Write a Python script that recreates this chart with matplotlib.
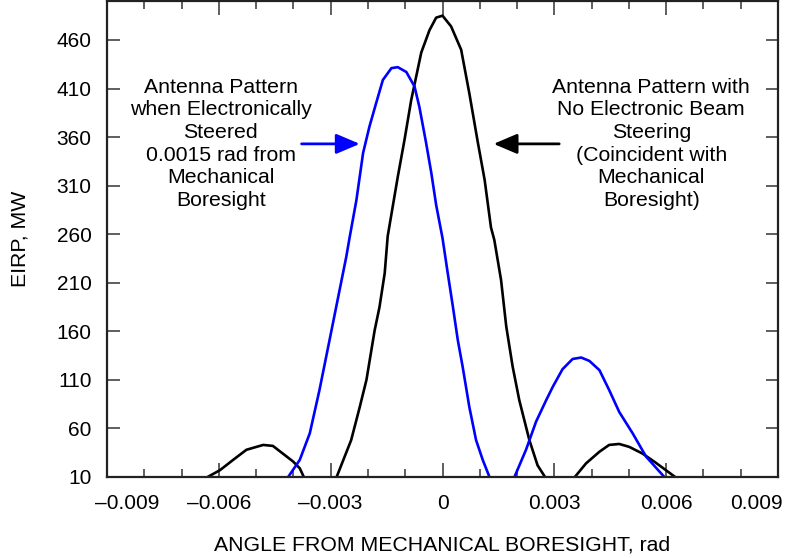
import matplotlib
matplotlib.use("Agg")
import matplotlib.pyplot as plt
import matplotlib.transforms as mtransforms
import numpy as np

plt.rcParams['font.family'] = ['Liberation Sans', 'DejaVu Sans']

# angle (rad) / EIRP (MW)
x_boresight = [-0.0063, -0.00597, -0.00562, -0.00526, -0.00481, -0.00455, -0.00428,
               -0.00401, -0.00383, -0.00372]
y_boresight = [10, 17, 27.5, 38, 43, 42, 34, 26, 19, 10]

x_main = [-0.00284, -0.00245, -0.00222, -0.00204, -0.00182, -0.00169, -0.00155,
          -0.00147, -0.0012, -0.00102, -0.00084, -0.00057, -0.00035, -0.00017,
          0.0, 0.00023, 0.0005, 0.00072, 0.00095, 0.00113, 0.0013, 0.00139,
          0.00157, 0.00171, 0.00188, 0.00206, 0.00233, 0.00255, 0.00275]
y_main = [10, 48, 82, 110, 161, 185, 220, 258, 319, 357, 398, 447, 470, 483,
          485, 474, 450, 405, 354, 316, 267, 254, 213, 165, 124, 89, 48, 22, 10]

x_side_r = [0.00355, 0.00385, 0.00421, 0.00447, 0.00474, 0.00501, 0.00537, 0.00572, 0.00624]
y_side_r = [10, 24, 36, 43, 44, 41, 34, 24.7, 10]

x_steer = [-0.00414, -0.00383, -0.00356, -0.0033, -0.00303, -0.00276, -0.00258,
           -0.00249, -0.00231, -0.00213, -0.00196, -0.00178, -0.0016, -0.00137,
           -0.0012, -0.00097, -0.00075, -0.00062, -0.00044, -0.0003, -0.00017,
           0.0, 0.00014, 0.00028, 0.00041, 0.00054, 0.00072, 0.0009, 0.00108, 0.00126]
y_steer = [10, 27.5, 55, 99.6, 151, 202.6, 237, 257, 295, 343.7, 370.8, 395, 418.8,
           431, 432, 427, 412, 391, 354, 323, 290, 256, 220, 185, 151, 123.6, 82,
           48, 27.5, 10]

x_steer_side = [0.00193, 0.00224, 0.00251, 0.00278, 0.00296, 0.00322, 0.00349,
                0.00372, 0.00394, 0.00421, 0.00447, 0.00474, 0.0051, 0.00546, 0.00595]
y_steer_side = [10, 38, 67, 89, 103, 121, 131.5, 133, 129.5, 120, 99.6, 77, 55, 31, 10]

xticks = [-0.009, -0.006, -0.003, 0, 0.003, 0.006, 0.009]
xtick_labels = ['\u20130.009', '\u20130.006', '\u20130.003', '0', '0.003', '0.006', '0.009']
yticks = [10, 60, 110, 160, 210, 260, 310, 360, 410, 460]

label_steer = "Antenna Pattern\nwhen Electronically\nSteered\n0.0015 rad from\nMechanical\nBoresight"
label_main = "Antenna Pattern with\nNo Electronic Beam\nSteering\n(Coincident with\nMechanical\nBoresight)"

fig = plt.figure(figsize=(7.85, 5.58), dpi=100)
ax = fig.add_axes([0.1363, 0.1452, 0.8548, 0.8528])

blue = '#0000ff'
lw = 1.9
ax.plot(x_boresight, y_boresight, color='black', lw=lw)
ax.plot(x_main, y_main, color='black', lw=lw)
ax.plot(x_side_r, y_side_r, color='black', lw=lw)
ax.plot(x_steer, y_steer, color=blue, lw=lw)
ax.plot(x_steer_side, y_steer_side, color=blue, lw=lw)

ax.set_xlim(-0.009, 0.009)
ax.set_ylim(10, 500)
ax.set_xticks(xticks)
ax.set_xticklabels(xtick_labels)
ax.set_xticks(np.arange(-0.009, 0.0091, 0.001), minor=True)
ax.set_yticks(yticks)

fs = 15
fs_txt = 15.3
ax.tick_params(axis='both', which='both', direction='in', top=True, right=True,
               labelsize=fs, width=1.1, color='#333333')
ax.tick_params(axis='x', which='major', length=10, pad=12)
ax.tick_params(axis='x', which='minor', length=6)
ax.tick_params(axis='y', which='major', length=9, pad=11)
for s in ax.spines.values():
    s.set_linewidth(1.6)
    s.set_color('#222222')

# end labels pulled inward as in the original
lbls = ax.get_xticklabels()
lbls[0].set_transform(lbls[0].get_transform() +
                      mtransforms.ScaledTranslation(20 / 100, 0, fig.dpi_scale_trans))
lbls[-1].set_transform(lbls[-1].get_transform() +
                       mtransforms.ScaledTranslation(-22 / 100, 0, fig.dpi_scale_trans))

ax.set_xlabel("ANGLE FROM MECHANICAL BORESIGHT, rad", fontsize=fs_txt)
ax.set_ylabel("EIRP, MW", fontsize=fs_txt)
ax.xaxis.set_label_coords(0.5, -0.123)
ax.yaxis.set_label_coords(-0.115, 0.5)

ax.text(-0.00595, 353, label_steer, fontsize=fs_txt, ha='center', va='center',
        multialignment='center', linespacing=1.24)
ax.text(0.0056, 353, label_main, fontsize=fs_txt, ha='center', va='center',
        multialignment='center', linespacing=1.24)

ax.annotate("", xy=(-0.00222, 353), xytext=(-0.00378, 353),
            arrowprops=dict(arrowstyle='-|>,head_length=0.4,head_width=0.17',
                            mutation_scale=36, lw=2, color=blue,
                            shrinkA=0, shrinkB=0))
ax.annotate("", xy=(0.00137, 353), xytext=(0.00313, 353),
            arrowprops=dict(arrowstyle='-|>,head_length=0.4,head_width=0.17',
                            mutation_scale=36, lw=2, color='black',
                            shrinkA=0, shrinkB=0))

fig.savefig("out.png", dpi=100)
